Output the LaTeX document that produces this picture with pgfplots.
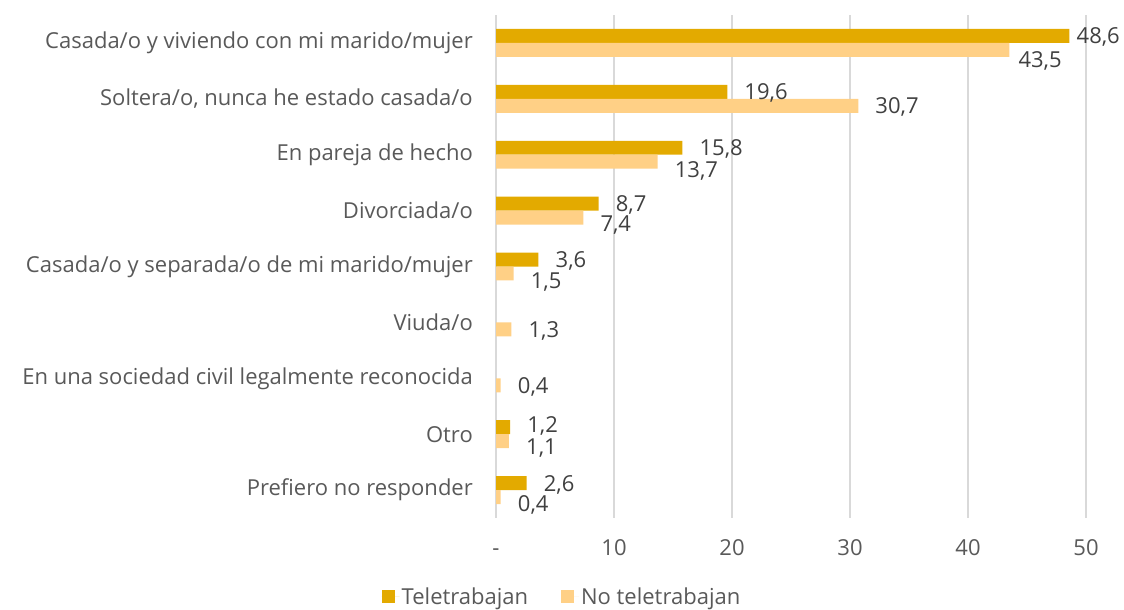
\documentclass[border=0pt]{standalone}
\usepackage{pgfplots}
\pgfplotsset{compat=1.18}
\usepackage{fontspec}
\setmainfont{Open Sans}
\definecolor{dark}{HTML}{E3AA00}
\definecolor{light}{HTML}{FFD086}
\definecolor{txt}{HTML}{404040}
\definecolor{txtb}{HTML}{595959}
\definecolor{gridc}{HTML}{D9D9D9}
\pgfplotsset{
  lab/.style={forget plot, draw=none, point meta=x,
    nodes near coords={\pgfmathprintnumber[fixed,fixed zerofill,precision=1,use comma]{\pgfplotspointmeta}},
    nodes near coords align=horizontal,
    every node near coord/.append style={font=\fontsize{22}{26}\selectfont, text=txt, inner sep=0pt, text depth=0pt, anchor=west, xshift=#1}},
}
\begin{document}
\begin{tikzpicture}
\begin{axis}[
  at={(496pt,-518pt)}, anchor=south west,
  scale only axis, width=590pt, height=503pt,
  xmin=0, xmax=50, ymin=-0.5, ymax=8.5, y dir=reverse,
  xtick={0,10,...,50}, xticklabels={-,10,20,30,40,50},
  ytick={0,...,8},
  yticklabels={Casada/o y viviendo con mi marido/mujer,
    {Soltera/o, nunca he estado casada/o},
    En pareja de hecho,
    Divorciada/o,
    Casada/o y separada/o de mi marido/mujer,
    Viuda/o,
    En una sociedad civil legalmente reconocida,
    Otro,
    Prefiero no responder},
  major tick length=0pt,
  xmajorgrids, major grid style={gridc, line width=1.5pt},
  axis line style={draw=none},
  tick label style={font=\fontsize{22}{26}\selectfont, text=txtb},
  yticklabel style={inner sep=0pt, anchor=east, xshift=-23pt},
  xticklabel style={inner sep=0pt, anchor=north, yshift=-21pt, text height=16pt, text depth=0pt},
  /pgf/number format/assume math mode=true,
  clip=false,
  legend columns=2,
  legend style={draw=none, fill=none, at={(axis description cs:0.1119,-0.157)}, anchor=center,
    font=\fontsize{22}{26}\selectfont, text=txtb,
    /tikz/every even column/.append style={column sep=31pt}},
  legend image code/.code={\fill[#1] (0pt,-6.5pt) rectangle (13pt,6.5pt); \path (0pt,0pt) -- (18pt,0pt);},
]
\addplot[xbar, bar width=0.25, bar shift=-0.125, fill=dark, draw=none]
  coordinates {(48.6,0) (19.6,1) (15.8,2) (8.7,3) (3.6,4) (1.2,7) (2.6,8)};
\addlegendentry{Teletrabajan}
\addplot[xbar, bar width=0.25, bar shift=0.125, fill=light, draw=none]
  coordinates {(43.5,0) (30.7,1) (13.7,2) (7.4,3) (1.5,4) (1.3,5) (0.4,6) (1.1,7) (0.4,8)};
\addlegendentry{No teletrabajan}
% value labels
\addplot[lab=7pt] coordinates {(48.6,-0.125)};
\addplot[lab=9pt] coordinates {(43.5,0.29)};
\addplot[lab=17pt] coordinates {(19.6,0.875) (15.8,1.875) (8.7,2.875) (3.6,3.875) (1.2,6.82) (2.6,7.875)};
\addplot[lab=17pt] coordinates {(30.7,1.125) (13.7,2.26) (7.4,3.24) (1.5,4.26) (1.3,5.125) (0.4,6.125) (1.1,7.22) (0.4,8.24)};
\end{axis}
\pgfresetboundingbox
\path[use as bounding box] (0,0) rectangle (1124pt,-610pt);
\end{tikzpicture}
\end{document}
